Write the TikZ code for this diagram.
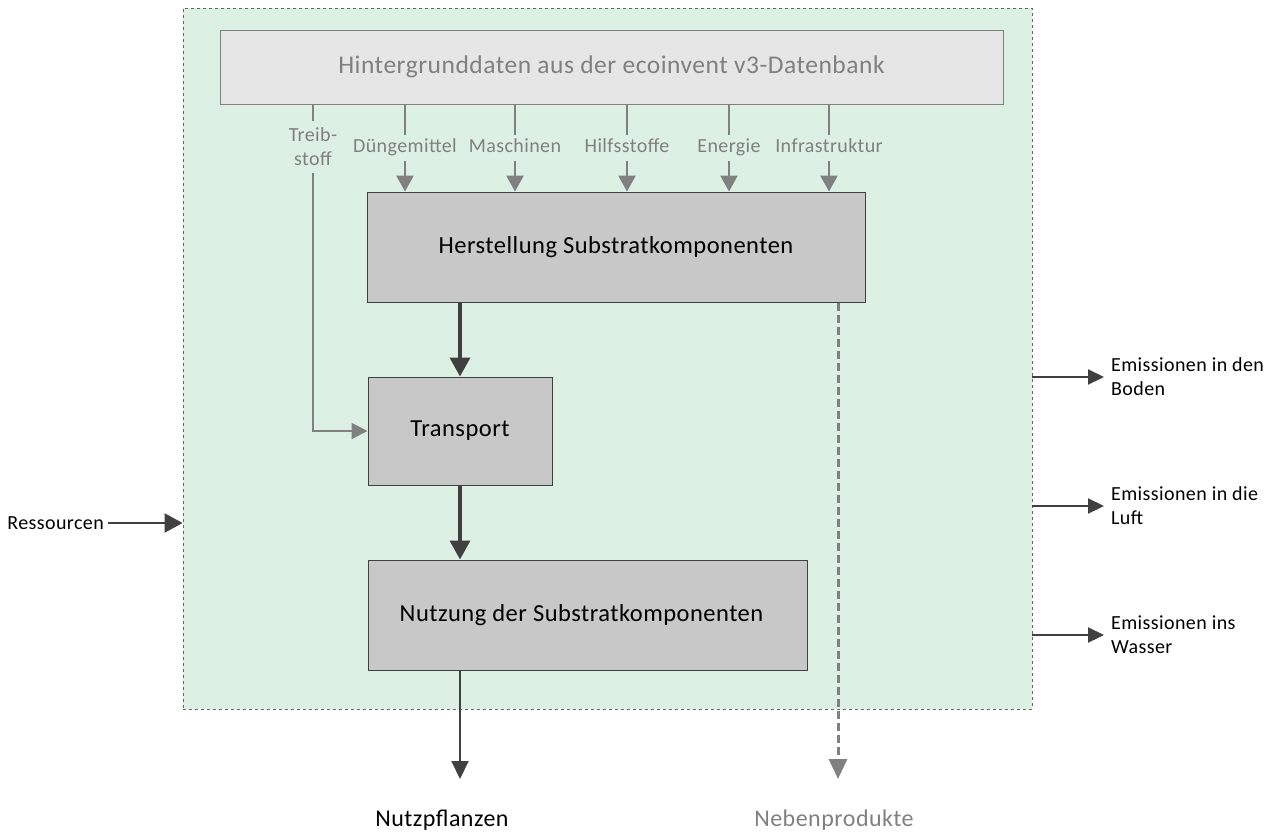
\documentclass[tikz,border=0pt]{standalone}
\usepackage{fontspec}
\setmainfont{Carlito}[LetterSpace=2]
\usetikzlibrary{arrows.meta,positioning}
\definecolor{sysgreen}{HTML}{DDF0E4}
\definecolor{boxgray}{HTML}{C8C8C8}
\definecolor{bggray}{HTML}{E6E6E6}
\definecolor{lgray}{HTML}{808080}
\definecolor{dgray}{HTML}{404040}
\tikzset{
  sysbox/.style={draw=dgray!80, dashed, fill=sysgreen, line width=0.8pt, minimum width=849pt, minimum height=701pt, inner sep=0pt},
  procbox/.style={draw=dgray, fill=boxgray, line width=1pt, inner sep=0pt, font=\fontsize{24.5}{28}\selectfont},
  bgbox/.style={draw=lgray, fill=bggray, line width=1pt, minimum width=783pt, minimum height=74pt, inner sep=0pt, text=lgray, font=\fontsize{25.5}{30}\selectfont},
  inlabel/.style={text=lgray, font=\fontsize{20}{24}\selectfont, inner xsep=1pt, inner ysep=4.5pt, text height=13pt, text depth=4pt, align=center},
  outlabel/.style={font=\fontsize{20}{24}\selectfont, inner sep=0pt, align=left},
  garrow/.style={draw=lgray, line width=2.5pt, -{Triangle[length=16pt,width=17pt]}},
  gline/.style={draw=lgray, line width=2.5pt},
  darrow/.style={draw=dgray, line width=3.5pt, -{Triangle[length=19pt,width=20pt]}},
  tarrow/.style={draw=dgray, line width=2pt, -{Triangle[length=18pt,width=17pt]}},
  earrow/.style={draw=dgray, line width=2.2pt, -{Triangle[length=16pt,width=15pt]}},
  thinarrow/.style={draw=lgray, line width=2pt, -{Triangle[length=16pt,width=16pt]}},
}
\begin{document}
\begin{tikzpicture}[x=1pt,y=-1pt]
\useasboundingbox (0,0) rectangle (1275,833);
\node[sysbox] (sys) at (607.5,358.5) {};
\node[bgbox] (bg) at (611.5,67) {Hintergrunddaten aus der ecoinvent v3-Datenbank};
\node[procbox, minimum width=498pt, minimum height=110pt] (herst) at (616,247) {Herstellung Substratkomponenten};
\node[procbox, minimum width=184pt, minimum height=108pt] (trans) at (460,431) {Transport};
\node[procbox, minimum width=439pt, minimum height=110pt] (nutz) at (587.5,615) {\hspace*{-12pt}Nutzung der Substratkomponenten};

% input labels
\node[text=lgray, font=\fontsize{20}{24}\selectfont, align=center, inner xsep=1pt, inner ysep=7pt] (treib) at (313,147) {Treib-\\stoff};
\node[inlabel] (dueng) at (405,148) {Düngemittel};
\node[inlabel] (masch) at (515,148) {Maschinen};
\node[inlabel] (hilfs) at (627,148) {Hilfsstoffe};
\node[inlabel] (energ) at (729,148) {Energie};
\node[inlabel] (infra) at (829,148) {Infrastruktur};

\foreach \n in {dueng,masch,hilfs,energ,infra}{
  \draw[gline] (bg.south -| \n) -- (\n.north);
  \draw[garrow] (\n.south) -- (herst.north -| \n);
}
\draw[gline] (bg.south -| treib) -- (treib.north);
\draw[thinarrow] (treib.south) -- (treib.south |- trans.west) -- (trans.west);

% main flow
\draw[darrow] (herst.south -| trans) -- (trans.north);
\draw[darrow] (trans.south) -- (nutz.north -| trans);

% outputs
\node[font=\fontsize{24}{28}\selectfont, inner sep=0pt] (pfl) at (442,820) {Nutzpflanzen};
\node[font=\fontsize{24}{28}\selectfont, text=lgray, inner sep=0pt] (neben) at (834,820) {Nebenprodukte};
\coordinate (pflend) at (460,779);
\coordinate (nebend) at (838,779);
\draw[tarrow] (nutz.south -| pflend) -- (pflend);
\draw[draw=lgray, line width=3pt, dash pattern=on 8pt off 4pt, -{Triangle[length=20pt,width=18pt]}] (herst.south -| nebend) -- (nebend);

% resources
\node[outlabel, anchor=east] (res) at (104,523) {Ressourcen};
\draw[earrow, -{Triangle[length=18pt,width=19pt]}] (res.east) ++(4,0) -- (sys.west |- res);

% emissions
\node[outlabel, anchor=west] (boden) at (1111,377) {Emissionen in den\\Boden};
\node[outlabel, anchor=west] (luft) at (1111,506) {Emissionen in die\\Luft};
\node[outlabel, anchor=west] (wasser) at (1111,635) {Emissionen ins\\Wasser};
\draw[earrow] (sys.east |- boden) -- ([xshift=-7pt]boden.west);
\draw[earrow] (sys.east |- luft) -- ([xshift=-7pt]luft.west);
\draw[earrow] (sys.east |- wasser) -- ([xshift=-7pt]wasser.west);
\end{tikzpicture}
\end{document}
